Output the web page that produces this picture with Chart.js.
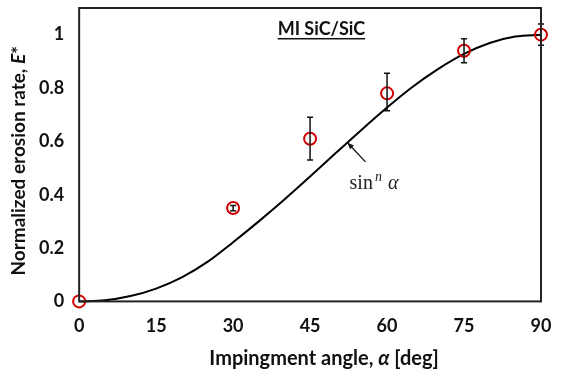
<!DOCTYPE html>
<html>
<head>
<meta charset="utf-8">
<script src="https://cdn.jsdelivr.net/npm/chart.js@4/dist/chart.umd.min.js"></script>
<style>
  html, body { margin: 0; padding: 0; background: #fff; }
  #wrap { width: 563px; height: 377px; }
</style>
</head>
<body>
<div id="wrap"><canvas id="erosionChart" width="563" height="377"></canvas></div>
<script>
// measured points (angle in deg, normalized erosion rate)
var angles = [0, 30, 45, 60, 75, 90];
var erosion = [0, 0.35, 0.61, 0.78, 0.94, 1.0];
var errLow = [0, 0.34, 0.53, 0.715, 0.895, 0.96];
var errHigh = [0, 0.36, 0.69, 0.855, 0.985, 1.04];

// sin^n fit curve
var curveAngles = [0, 5, 10, 15, 20, 25, 30, 35, 40, 45, 50, 55, 60, 65, 70, 75, 80, 85, 90];
var curveValues = [0, 0.004, 0.02, 0.048, 0.09, 0.148, 0.222, 0.3, 0.382, 0.468, 0.556, 0.643, 0.727, 0.805, 0.872, 0.928, 0.969, 0.993, 1.0];

var xTicks = [0, 15, 30, 45, 60, 75, 90];
var yTicks = [0, 0.2, 0.4, 0.6, 0.8, 1];

var chartTitle = 'MI SiC/SiC';
// axis titles as [text, italic] runs
var xTitle = [['Impingment angle, ', false], ['\u03b1', true], [' [deg]', false]];
var yTitle = [['Normalized erosion rate, ', false], ['E', true], ['*', false]];
var curveLabel = 'sin';

var FONT = 'Lato, "Open Sans", sans-serif';

// draws runs of text centred on (cx, cy), optionally rotated
function drawRuns(ctx, runs, cx, cy, size, rot) {
    var widths = runs.map(function(r) {
        ctx.font = (r[1] ? 'italic ' : '') + 'bold ' + size + 'px ' + FONT;
        return ctx.measureText(r[0]).width;
    });
    var total = widths.reduce(function(s, w) { return s + w; }, 0);
    ctx.save();
    ctx.translate(cx, cy);
    ctx.rotate(rot);
    ctx.textAlign = 'left';
    ctx.textBaseline = 'middle';
    ctx.fillStyle = '#111';
    var x = -total / 2;
    runs.forEach(function(r, i) {
        ctx.font = (r[1] ? 'italic ' : '') + 'bold ' + size + 'px ' + FONT;
        ctx.fillText(r[0], x, 0);
        x += widths[i];
    });
    ctx.restore();
}

var extras = {
    id: 'extras',
    afterDatasetsDraw: function(chart) {
        var ctx = chart.ctx, a = chart.chartArea;
        var xs = chart.scales.x, ys = chart.scales.y;

        // error bars
        ctx.save();
        ctx.strokeStyle = '#111';
        ctx.lineWidth = 1.5;
        for (var i = 0; i < angles.length; i++) {
            if (errHigh[i] - errLow[i] <= 0) continue;
            var px = xs.getPixelForValue(angles[i]);
            var top = ys.getPixelForValue(errHigh[i]);
            var bot = ys.getPixelForValue(errLow[i]);
            ctx.beginPath();
            ctx.moveTo(px, top); ctx.lineTo(px, bot);
            ctx.moveTo(px - 3, top); ctx.lineTo(px + 3, top);
            ctx.moveTo(px - 3, bot); ctx.lineTo(px + 3, bot);
            ctx.stroke();
        }
        ctx.restore();

        // box around plot area
        ctx.save();
        ctx.strokeStyle = '#222';
        ctx.lineWidth = 2;
        ctx.strokeRect(a.left, a.top, a.right - a.left, a.bottom - a.top);
        ctx.restore();

        // axis titles
        drawRuns(ctx, xTitle, (a.left + a.right) / 2 + 14, a.bottom + 57, 20, 0);
        drawRuns(ctx, yTitle, 19, (a.top + a.bottom) / 2 + 6, 19, -Math.PI / 2);

        // title, underlined
        ctx.save();
        ctx.font = 'bold 18px ' + FONT;
        ctx.fillStyle = '#111';
        ctx.textAlign = 'center';
        ctx.textBaseline = 'alphabetic';
        var tx = xs.getPixelForValue(47.2), ty = ys.getPixelForValue(0.997);
        ctx.fillText(chartTitle, tx, ty);
        var tw = ctx.measureText(chartTitle).width;
        ctx.fillRect(tx - tw / 2, ty + 2.5, tw, 1.5);
        ctx.restore();

        // arrow to the curve
        ctx.save();
        var ax = xs.getPixelForValue(52.3), ay = ys.getPixelForValue(0.595);
        var bx = xs.getPixelForValue(55.8), by = ys.getPixelForValue(0.523);
        ctx.strokeStyle = '#111';
        ctx.fillStyle = '#111';
        ctx.lineWidth = 1.3;
        ctx.beginPath(); ctx.moveTo(bx, by); ctx.lineTo(ax, ay); ctx.stroke();
        var ang = Math.atan2(ay - by, ax - bx);
        ctx.beginPath();
        ctx.moveTo(ax, ay);
        ctx.lineTo(ax - 7 * Math.cos(ang - 0.4), ay - 7 * Math.sin(ang - 0.4));
        ctx.lineTo(ax - 7 * Math.cos(ang + 0.4), ay - 7 * Math.sin(ang + 0.4));
        ctx.closePath(); ctx.fill();

        // sin^n alpha label
        ctx.fillStyle = '#222';
        ctx.textAlign = 'left';
        var lx = xs.getPixelForValue(52.7), ly = ys.getPixelForValue(0.423);
        ctx.font = '20px "Liberation Serif", serif';
        ctx.fillText(curveLabel, lx, ly);
        var w1 = ctx.measureText(curveLabel).width;
        ctx.font = 'italic 14px "Liberation Serif", serif';
        ctx.fillText('n', lx + w1 + 2, ly - 8);
        var w2 = ctx.measureText('n').width;
        ctx.font = 'italic 20px "Liberation Serif", serif';
        ctx.fillText('\u03b1', lx + w1 + w2 + 8, ly);
        ctx.restore();
    }
};

var curveData = curveAngles.map(function(a, i) { return { x: a, y: curveValues[i] }; });
var pointData = angles.map(function(a, i) { return { x: a, y: erosion[i] }; });

new Chart(document.getElementById('erosionChart'), {
    type: 'scatter',
    data: {
        datasets: [
            {
                type: 'line',
                data: curveData,
                borderColor: '#000',
                borderWidth: 2,
                pointRadius: 0,
                cubicInterpolationMode: 'monotone',
                fill: false,
                order: 2
            },
            {
                data: pointData,
                pointRadius: 6,
                pointBorderWidth: 2,
                pointBorderColor: '#d00000',
                pointBackgroundColor: 'rgba(0,0,0,0)',
                order: 1
            }
        ]
    },
    options: {
        responsive: false,
        animation: false,
        clip: false,
        layout: { padding: { top: 5, right: 22, left: 24, bottom: 26 } },
        plugins: { legend: { display: false }, tooltip: { enabled: false } },
        scales: {
            x: {
                type: 'linear',
                min: 0, max: 90,
                afterBuildTicks: function(s) { s.ticks = xTicks.map(function(v) { return { value: v }; }); },
                afterFit: function(s) { s.paddingLeft = 0; s.paddingRight = 0; },
                grid: { display: false, drawTicks: false },
                border: { display: false },
                ticks: { color: '#111', padding: 14, font: { family: FONT, size: 18, weight: 'bold' } }
            },
            y: {
                min: 0, max: 1.1,
                afterBuildTicks: function(s) { s.ticks = yTicks.map(function(v) { return { value: v }; }); },
                afterFit: function(s) { s.paddingTop = 0; s.paddingBottom = 0; },
                grid: { display: false, drawTicks: false },
                border: { display: false },
                ticks: {
                    color: '#111', padding: 15,
                    font: { family: FONT, size: 18, weight: 'bold' },
                    callback: function(v) { return String(Math.round(v * 10) / 10); }
                }
            }
        }
    },
    plugins: [extras]
});
</script>
</body>
</html>
